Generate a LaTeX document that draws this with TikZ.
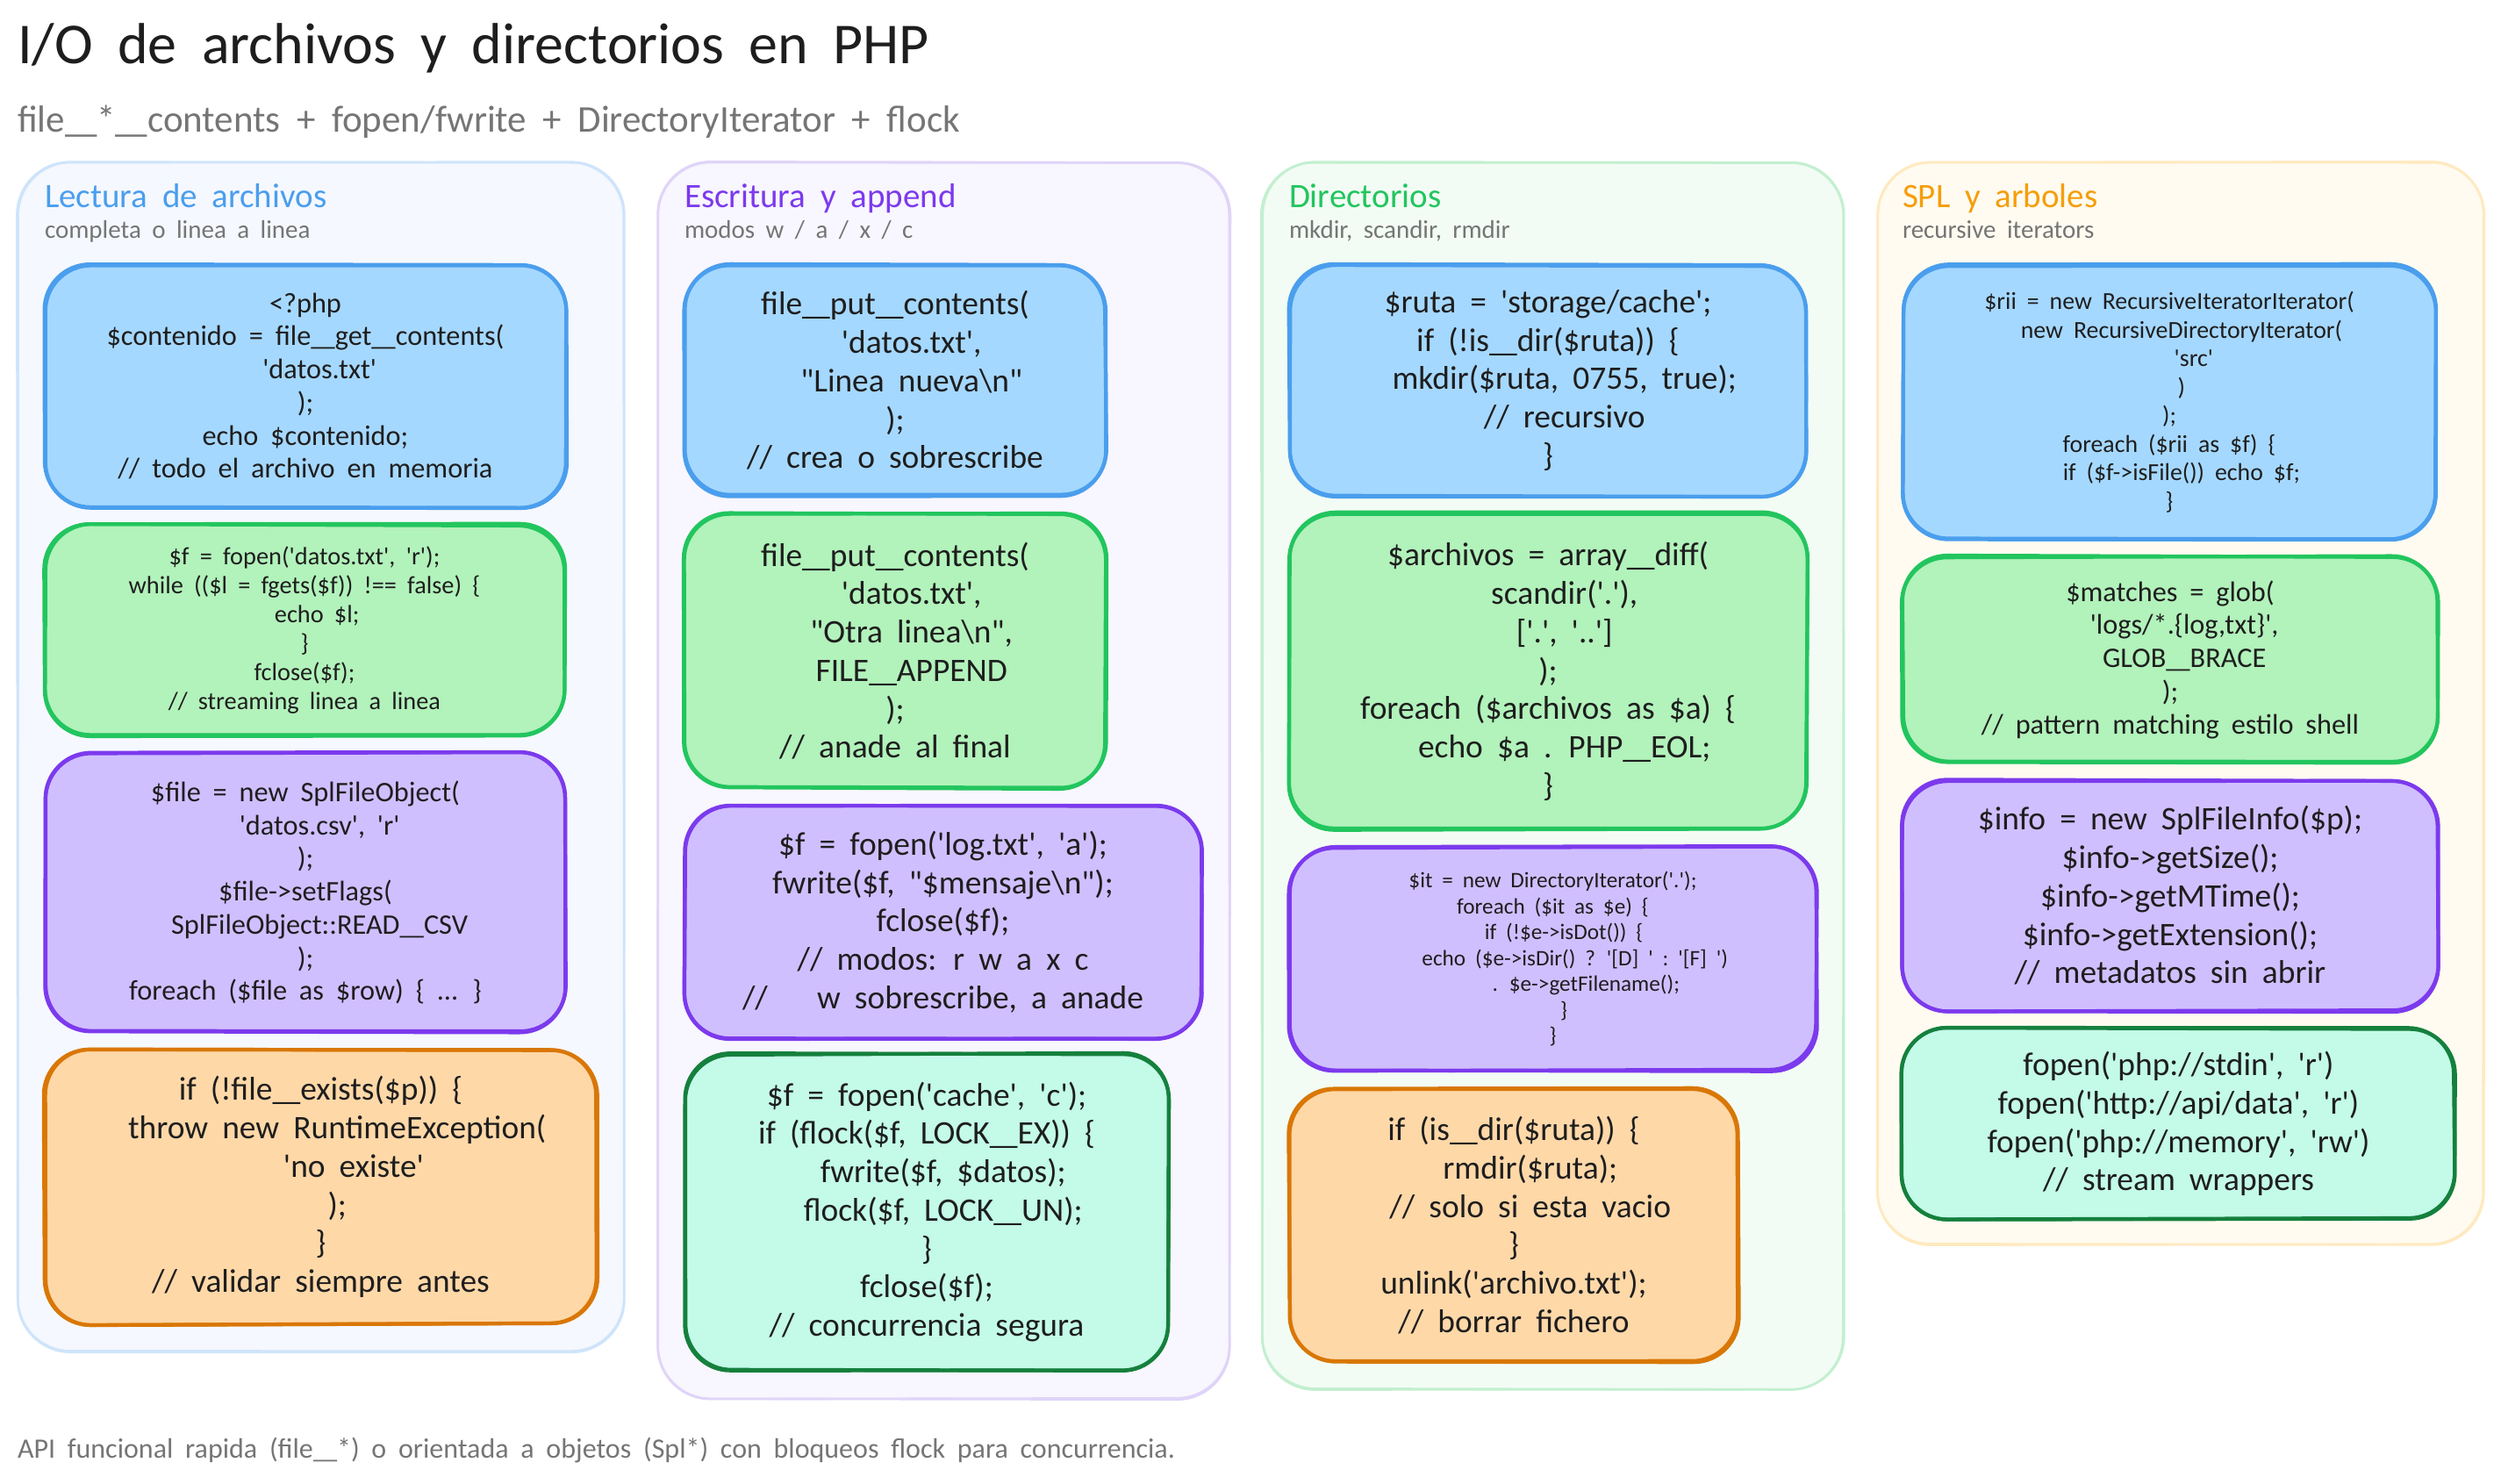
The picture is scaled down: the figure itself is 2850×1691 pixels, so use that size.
\documentclass[tikz,border=0pt]{standalone}
\usepackage{fontspec}
\newfontfamily\hand[WordSpace=1.9]{Carlito}
\definecolor{ink}{HTML}{1E1E1E}
\definecolor{mute}{HTML}{757575}
\definecolor{bS}{HTML}{4A9EED}\definecolor{bF}{HTML}{A5D8FF}
\definecolor{gS}{HTML}{22C55E}\definecolor{gF}{HTML}{B2F2BB}
\definecolor{pS}{HTML}{7C3AED}\definecolor{pF}{HTML}{D0BFFF}
\definecolor{oS}{HTML}{D97706}\definecolor{oF}{HTML}{FFD8A8}
\definecolor{tS}{HTML}{15803D}\definecolor{tF}{HTML}{C3FAE8}
\definecolor{p1S}{HTML}{CFE4FA}\definecolor{p1F}{HTML}{F5F8FE}
\definecolor{p2S}{HTML}{E0D4F8}\definecolor{p2F}{HTML}{F8F6FE}
\definecolor{p3S}{HTML}{C3EFD0}\definecolor{p3F}{HTML}{F2FCF4}
\definecolor{p4S}{HTML}{FFE9C0}\definecolor{p4F}{HTML}{FFFBF0}
\definecolor{t1}{HTML}{4A9EED}\definecolor{t2}{HTML}{7C3AED}
\definecolor{t3}{HTML}{22C55E}\definecolor{t4}{HTML}{F59E0B}
\newcommand{\ind}[1]{\hspace*{#1\dimexpr 0.5em\relax}}
\newcommand{\us}{\scalebox{1.7}[1]{\_}}
\tikzset{
  x=0.5pt,y=-0.5pt,
  panelfill/.style={inner sep=0pt,outer sep=0pt,rounded corners=30pt},
  codefill/.style={inner sep=0pt,outer sep=0pt,rounded corners=26pt,align=center,text=ink},
  edgeline/.style={line width=2.1pt,rounded corners=26pt,line cap=round,line join=round},
  paneledge/.style={line width=1.3pt,rounded corners=30pt,line cap=round,line join=round},
  label/.style={anchor=base west,inner sep=0pt,outer sep=0pt}
}
% jittered double stroke
\newcommand{\rough}[6]{%
  \foreach \k in {1,2}{%
    \pgfmathsetmacro\ja{#6*rand}\pgfmathsetmacro\jb{#6*rand}\pgfmathsetmacro\jc{#6*rand}\pgfmathsetmacro\jd{#6*rand}%
    \pgfmathsetmacro\je{#6*rand}\pgfmathsetmacro\jf{#6*rand}\pgfmathsetmacro\jg{#6*rand}\pgfmathsetmacro\jh{#6*rand}%
    \draw[#1] (#2+\ja,#3+\jb) -- (#4+\jc,#3+\jd) -- (#4+\je,#5+\jf) -- (#2+\jg,#5+\jh) -- cycle;
  }}
% name, colour letter, x1,y1,x2,y2, font px, text
\newcommand{\code}[8]{%
  \pgfmathsetmacro\cx{(#3+#5)/2}\pgfmathsetmacro\cy{(#4+#6)/2}%
  \pgfmathsetmacro\bw{(#5-#3)*0.5}\pgfmathsetmacro\bh{(#6-#4)*0.5}%
  \pgfmathsetmacro\myfs{#7*0.5*1.07}\pgfmathsetmacro\myls{#7*0.5*1.25}%
  \node[codefill,fill=#2F,minimum width=\bw pt,minimum height=\bh pt,font=\hand\fontsize{\myfs pt}{\myls pt}\selectfont] (#1) at (\cx,\cy) {#8};
  \rough{edgeline,draw=#2S}{#3}{#4}{#5}{#6}{1.4}}
% name, colour tag, x1,y1,x2,y2
\newcommand{\panel}[6]{%
  \pgfmathsetmacro\cx{(#3+#5)/2}\pgfmathsetmacro\cy{(#4+#6)/2}%
  \pgfmathsetmacro\bw{(#5-#3)*0.5}\pgfmathsetmacro\bh{(#6-#4)*0.5}%
  \node[panelfill,fill=#2F,minimum width=\bw pt,minimum height=\bh pt] (#1) at (\cx,\cy) {};
  \rough{paneledge,draw=#2S}{#3}{#4}{#5}{#6}{1.0}}
\begin{document}
\begin{tikzpicture}
\useasboundingbox (0,0) rectangle (2850,1691);
\pgfmathsetseed{11}
\node[label,text=ink,font=\hand\fontsize{33pt}{38pt}\selectfont] (title) at (20,73) {I/O de archivos y directorios en PHP};
\node[label,text=mute,font=\hand\fontsize{21.5pt}{25pt}\selectfont] (subtitle) at (20,150) {file\us*\us contents + fopen/fwrite + DirectoryIterator + flock};
\node[label,text=mute,font=\hand\fontsize{16pt}{19pt}\selectfont] (footer) at (20,1661) {API funcional rapida (file\us*) o orientada a objetos (Spl*) con bloqueos flock para concurrencia.};

\panel{panelA}{p1}{20}{185}{711}{1540}
\panel{panelB}{p2}{749}{185}{1401}{1594}
\panel{panelC}{p3}{1438}{185}{2101}{1583}
\panel{panelD}{p4}{2139}{185}{2830}{1418}

\node[label,text=t1,font=\hand\fontsize{19.5pt}{22pt}\selectfont] (tA) at (51,236) {Lectura de archivos};
\node[label,text=mute,font=\hand\fontsize{14.5pt}{17pt}\selectfont] (sA) at (51,271) {completa o linea a linea};
\node[label,text=t2,font=\hand\fontsize{19.5pt}{22pt}\selectfont] (tB) at (780,236) {Escritura y append};
\node[label,text=mute,font=\hand\fontsize{14.5pt}{17pt}\selectfont] (sB) at (780,271) {modos w / a / x / c};
\node[label,text=t3,font=\hand\fontsize{19.5pt}{22pt}\selectfont] (tC) at (1469,236) {Directorios};
\node[label,text=mute,font=\hand\fontsize{14.5pt}{17pt}\selectfont] (sC) at (1469,271) {mkdir, scandir, rmdir};
\node[label,text=t4,font=\hand\fontsize{19.5pt}{22pt}\selectfont] (tD) at (2168,236) {SPL y arboles};
\node[label,text=mute,font=\hand\fontsize{14.5pt}{17pt}\selectfont] (sD) at (2168,271) {recursive iterators};

% Column 1
\code{a1}{b}{51}{302}{645}{578}{30.2}{<?php\\\$contenido = file\us get\us contents(\\\ind{2}'datos.txt'\\);\\echo \$contenido;\\// todo el archivo en memoria}
\code{a2}{g}{51}{598}{643}{838}{26.5}{\$f = fopen('datos.txt', 'r');\\while ((\$l = fgets(\$f)) !== false) \{\\\ind{2}echo \$l;\\\}\\fclose(\$f);\\// streaming linea a linea}
\code{a3}{p}{51}{858}{645}{1176}{30.2}{\$file = new SplFileObject(\\\ind{2}'datos.csv', 'r'\\);\\\$file->setFlags(\\\ind{2}SplFileObject::READ\us CSV\\);\\foreach (\$file as \$row) \{ ... \}}
\code{a4}{o}{51}{1196}{680}{1509}{35}{if (!file\us exists(\$p)) \{\\\ind{2}throw new RuntimeException(\\\ind{4}'no existe'\\\ind{2});\\\}\\// validar siempre antes}
% Column 2
\code{b1}{b}{780}{302}{1260}{565}{35}{file\us put\us contents(\\\ind{2}'datos.txt',\\\ind{2}"Linea nueva\textbackslash n"\\);\\// crea o sobrescribe}
\code{b2}{g}{780}{585}{1260}{898}{35}{file\us put\us contents(\\\ind{2}'datos.txt',\\\ind{2}"Otra linea\textbackslash n",\\\ind{2}FILE\us APPEND\\);\\// anade al final}
\code{b3}{p}{780}{918}{1369}{1183}{35}{\$f = fopen('log.txt', 'a');\\fwrite(\$f, "\$mensaje\textbackslash n");\\fclose(\$f);\\// modos: r w a x c\\//\ind{3}w sobrescribe, a anade}
\code{b4}{t}{780}{1201}{1332}{1561}{35}{\$f = fopen('cache', 'c');\\if (flock(\$f, LOCK\us EX)) \{\\\ind{2}fwrite(\$f, \$datos);\\\ind{2}flock(\$f, LOCK\us UN);\\\}\\fclose(\$f);\\// concurrencia segura}
% Column 3
\code{c1}{b}{1469}{302}{2059}{565}{35}{\$ruta = 'storage/cache';\\if (!is\us dir(\$ruta)) \{\\\ind{2}mkdir(\$ruta, 0755, true);\\\ind{2}// recursivo\\\}}
\code{c2}{g}{1469}{585}{2059}{945}{35}{\$archivos = array\us diff(\\\ind{2}scandir('.'),\\\ind{2}['.', '..']\\);\\foreach (\$archivos as \$a) \{\\\ind{2}echo \$a . PHP\us EOL;\\\}}
\code{c3}{p}{1469}{965}{2070}{1220}{23.6}{\$it = new DirectoryIterator('.');\\foreach (\$it as \$e) \{\\\ind{2}if (!\$e->isDot()) \{\\\ind{4}echo (\$e->isDir() ? '[D] ' : '[F] ')\\\ind{6}. \$e->getFilename();\\\ind{2}\}\\\}}
\code{c4}{o}{1469}{1240}{1981}{1552}{35}{if (is\us dir(\$ruta)) \{\\\ind{2}rmdir(\$ruta);\\\ind{2}// solo si esta vacio\\\}\\unlink('archivo.txt');\\// borrar fichero}
% Column 4
\code{d1}{b}{2168}{302}{2776}{614}{26}{\$rii = new RecursiveIteratorIterator(\\\ind{2}new RecursiveDirectoryIterator(\\\ind{4}'src'\\\ind{2})\\);\\foreach (\$rii as \$f) \{\\\ind{2}if (\$f->isFile()) echo \$f;\\\}}
\code{d2}{g}{2168}{634}{2778}{869}{30.2}{\$matches = glob(\\\ind{2}'logs/*.\{log,txt\}',\\\ind{2}GLOB\us BRACE\\);\\// pattern matching estilo shell}
\code{d3}{p}{2168}{889}{2778}{1152}{35}{\$info = new SplFileInfo(\$p);\\\$info->getSize();\\\$info->getMTime();\\\$info->getExtension();\\// metadatos sin abrir}
\code{d4}{t}{2168}{1172}{2797}{1389}{35}{fopen('php://stdin', 'r')\\fopen('http://api/data', 'r')\\fopen('php://memory', 'rw')\\// stream wrappers}
\end{tikzpicture}
\end{document}
